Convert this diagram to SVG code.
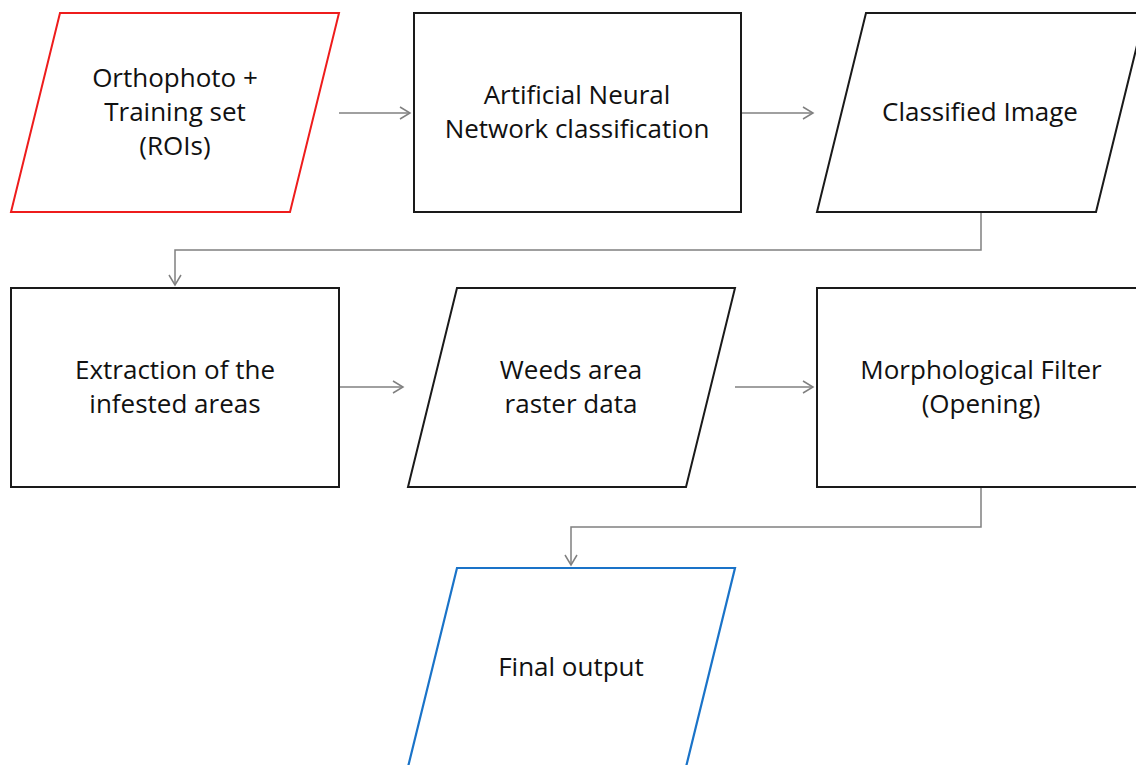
<svg xmlns="http://www.w3.org/2000/svg" width="1136" height="765" viewBox="0 0 1136 765">
<style>
.box{fill:#fff;stroke:#1a1a1a;stroke-width:2}
.red{fill:#fff;stroke:#ee1c1c;stroke-width:2}
.blue{fill:#fff;stroke:#1a73c8;stroke-width:2.2}
.t{font-family:"Open Sans","Liberation Sans",sans-serif;font-size:26px;fill:#111;text-anchor:middle}
.c{fill:none;stroke:#808080;stroke-width:1.5}
</style>
<defs>
<marker id="ah" markerWidth="14" markerHeight="14" refX="11" refY="7" orient="auto" markerUnits="userSpaceOnUse">
<path d="M1,1 L11,7 L1,13" fill="none" stroke="#808080" stroke-width="1.5"/>
</marker>
</defs>
<rect width="1136" height="765" fill="#fff"/>
<g id="connectors">
<path class="c" d="M339,113 H410" marker-end="url(#ah)"/>
<path class="c" d="M741,113 H813" marker-end="url(#ah)"/>
<path class="c" d="M981,212 V250 H175 V285" marker-end="url(#ah)"/>
<path class="c" d="M339,387 H403" marker-end="url(#ah)"/>
<path class="c" d="M735,387 H813" marker-end="url(#ah)"/>
<path class="c" d="M981,487 V527 H571 V565" marker-end="url(#ah)"/>
</g>
<g id="n1">
<polygon class="red" points="60,13 339,13 290,212 11,212"/>
<text class="t" x="175" y="87">Orthophoto +</text>
<text class="t" x="175" y="121">Training set</text>
<text class="t" x="175" y="155">(ROIs)</text>
</g>
<g id="n2">
<rect class="box" x="414" y="13" width="327" height="199"/>
<text class="t" x="577" y="104">Artificial Neural</text>
<text class="t" x="577" y="138">Network classification</text>
</g>
<g id="n3">
<polygon class="box" points="866,13 1145,13 1096,212 817,212"/>
<text class="t" x="980" y="121">Classified Image</text>
</g>
<g id="n4">
<rect class="box" x="11" y="288" width="328" height="199"/>
<text class="t" x="175" y="379">Extraction of the</text>
<text class="t" x="175" y="413">infested areas</text>
</g>
<g id="n5">
<polygon class="box" points="457,288 735,288 686,487 408,487"/>
<text class="t" x="571" y="379">Weeds area</text>
<text class="t" x="571" y="413">raster data</text>
</g>
<g id="n6">
<rect class="box" x="817" y="288" width="330" height="199"/>
<text class="t" x="981" y="379">Morphological Filter</text>
<text class="t" x="981" y="413">(Opening)</text>
</g>
<g id="n7">
<polygon class="blue" points="457,568 735,568 686,767 408,767"/>
<text class="t" x="571" y="676">Final output</text>
</g>
</svg>
